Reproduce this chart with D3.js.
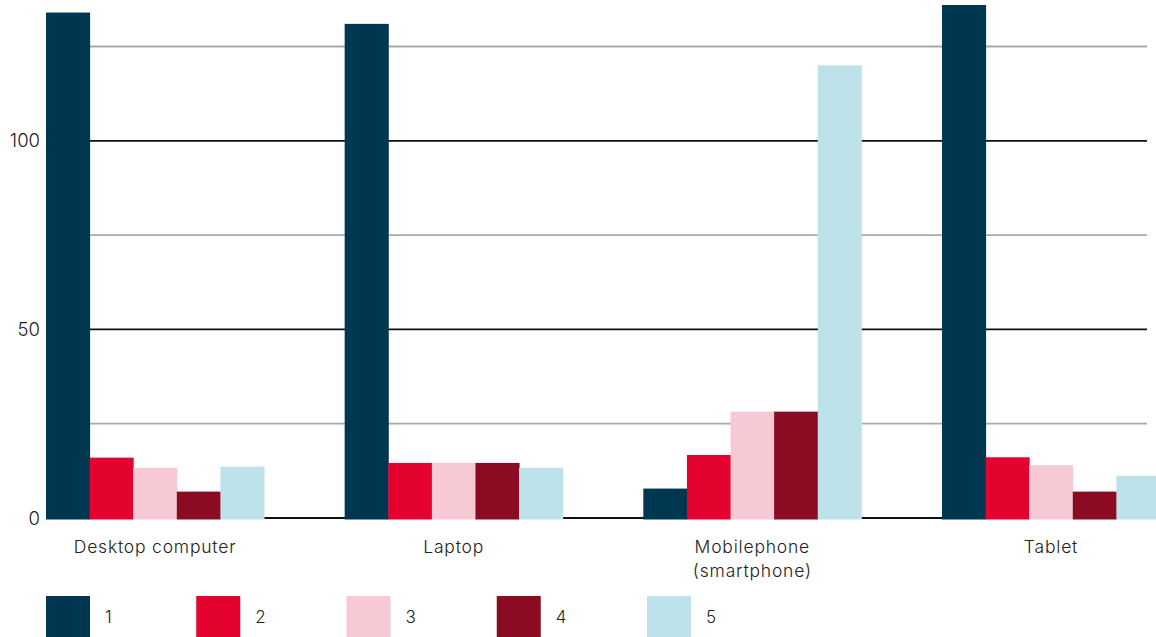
<!DOCTYPE html>
<html>
<head>
<meta charset="utf-8">
<script src="https://cdn.jsdelivr.net/npm/d3@7"></script>
<style>
  html, body { margin: 0; padding: 0; background: #fff; }
  svg { display: block; }
  text { font-family: Inter, "Noto Sans", sans-serif; fill: #222; }
</style>
</head>
<body>
<svg id="chart" width="1156" height="637"></svg>
<script>
const categories = ["Desktop computer", "Laptop", "Mobilephone\n(smartphone)", "Tablet"];
const seriesNames = ["1", "2", "3", "4", "5"];
const series1 = [134, 131, 7.8, 136];
const series2 = [16, 14.6, 16.7, 16.1];
const series3 = [13.3, 14.6, 28.2, 14];
const series4 = [7, 14.6, 28.2, 7];
const series5 = [13.6, 13.3, 120, 11.2];
const colors = ["#003750", "#e4032e", "#f7c9d4", "#8b0c22", "#bee2ea"];
const yTicks = [0, 50, 100];
const gridTicks = [0, 25, 50, 75, 100, 125];

const allSeries = [series1, series2, series3, series4, series5];
const svg = d3.select("#chart");

const x0 = d3.scaleBand().domain(categories).range([46, 1160]).paddingInner(0.27).paddingOuter(0);
const x1 = d3.scaleBand().domain(seriesNames).range([0, x0.bandwidth()]).padding(0);
const y = d3.scaleLinear().domain([0, 125]).range([518, 46.5]);

// gridlines
svg.append("g").selectAll("line").data(gridTicks).join("line")
  .attr("x1", 46).attr("x2", 1147)
  .attr("y1", d => y(d)).attr("y2", d => y(d))
  .attr("stroke", d => d % 50 === 0 ? "#111" : "#aaa")
  .attr("stroke-width", 1.8);

// y tick labels
svg.append("g").selectAll("text").data(yTicks).join("text")
  .attr("x", 40).attr("y", d => y(d))
  .attr("dy", "0.36em")
  .attr("text-anchor", "end")
  .attr("font-size", 18.5)
  .attr("font-weight", 300)
  .text(d => d);

// bars
const groups = svg.append("g").selectAll("g").data(categories).join("g")
  .attr("transform", c => `translate(${x0(c)},0)`);
groups.selectAll("rect")
  .data((c, ci) => seriesNames.map((s, si) => ({ s, si, v: allSeries[si][ci] })))
  .join("rect")
  .attr("x", d => x1(d.s))
  .attr("width", x1.bandwidth() + 0.5)
  .attr("y", d => y(d.v))
  .attr("height", d => y(0) - y(d.v) + 1.5)
  .attr("fill", d => colors[d.si]);

// category labels
const labels = svg.append("g").selectAll("text").data(categories).join("text")
  .attr("x", c => x0(c) + x0.bandwidth() / 2)
  .attr("y", 553)
  .attr("text-anchor", "middle")
  .attr("font-size", 17.5)
  .attr("letter-spacing", 0.8)
  .attr("font-weight", 300);
labels.each(function(c) {
  const lines = c.split("\n");
  d3.select(this).selectAll("tspan").data(lines).join("tspan")
    .attr("x", x0(c) + x0.bandwidth() / 2)
    .attr("dy", (l, i) => i === 0 ? 0 : 24)
    .text(l => l);
});

// legend
const lx = d3.scalePoint().domain(seriesNames).range([46, 647]);
const leg = svg.append("g").selectAll("g").data(seriesNames).join("g")
  .attr("transform", s => `translate(${lx(s)},596)`);
leg.append("rect").attr("width", 44).attr("height", 41)
  .attr("fill", (s, i) => colors[i]);
leg.append("text").attr("x", 59).attr("y", 20.5).attr("dy", "0.36em")
  .attr("font-size", 17).attr("font-weight", 300)
  .text(s => s);
</script>
</body>
</html>
